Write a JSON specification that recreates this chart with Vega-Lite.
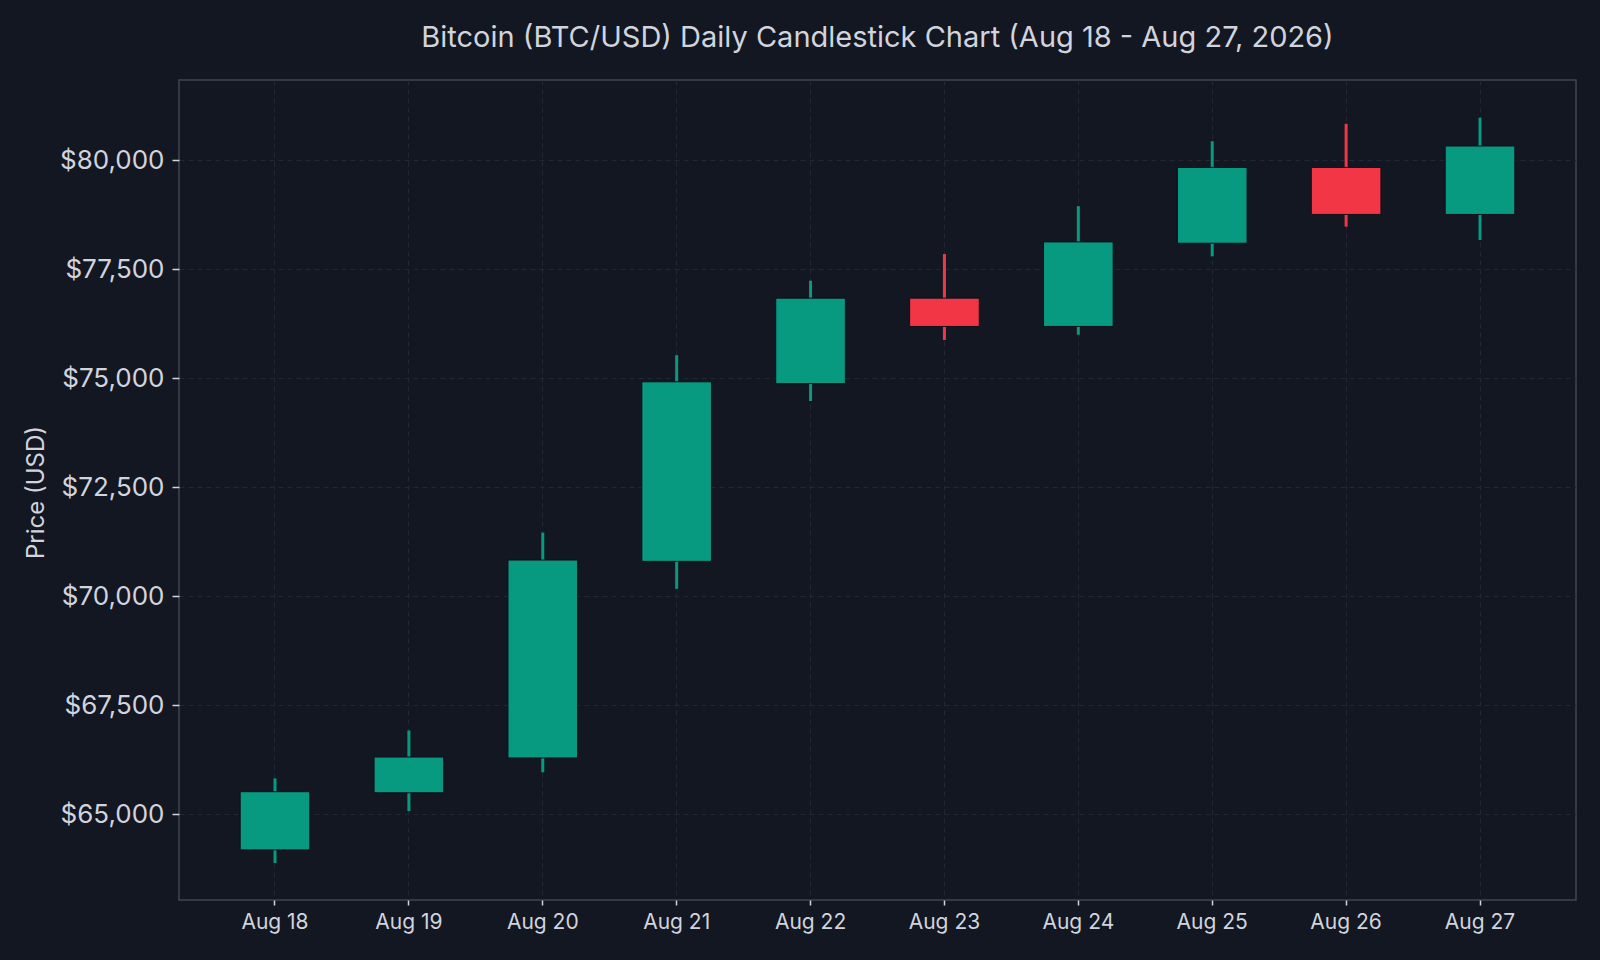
{
  "$schema": "https://vega.github.io/schema/vega-lite/v6.json",
  "description": "Bitcoin daily candlestick chart",
  "autosize": {"type": "none"},
  "padding": {"left": 179, "top": 80, "right": 24, "bottom": 60},
  "width": 1397,
  "height": 820,
  "background": "#131722",
  "title": {
    "text": "Bitcoin (BTC/USD) Daily Candlestick Chart (Aug 18 - Aug 27, 2026)",
    "anchor": "middle",
    "fontSize": 29,
    "fontWeight": "normal",
    "font": "Inter",
    "color": "#d1d4dc",
    "offset": 27
  },
  "data": {
    "values": [
      {"date": "Aug 18", "open": 64180, "high": 65820, "low": 63880, "close": 65515},
      {"date": "Aug 19", "open": 65490, "high": 66920, "low": 65070, "close": 66310},
      {"date": "Aug 20", "open": 66290, "high": 71460, "low": 65960, "close": 70830},
      {"date": "Aug 21", "open": 70800, "high": 75530, "low": 70170, "close": 74920},
      {"date": "Aug 22", "open": 74880, "high": 77240, "low": 74480, "close": 76840},
      {"date": "Aug 23", "open": 76840, "high": 77850, "low": 75880, "close": 76190},
      {"date": "Aug 24", "open": 76190, "high": 78950, "low": 76000, "close": 78130},
      {"date": "Aug 25", "open": 78100, "high": 80440, "low": 77800, "close": 79840},
      {"date": "Aug 26", "open": 79840, "high": 80840, "low": 78480, "close": 78760},
      {"date": "Aug 27", "open": 78760, "high": 80980, "low": 78175, "close": 80330}
    ]
  },
  "encoding": {
    "x": {
      "field": "date",
      "type": "ordinal",
      "sort": null,
      "scale": {"type": "band", "paddingInner": 0, "paddingOuter": 0.217},
      "axis": {
        "title": null,
        "labelAngle": 0,
        "labelFontSize": 21,
        "labelPadding": 6,
        "tickSize": 5,
        "grid": true
      }
    },
    "color": {
      "condition": {"test": "datum.close < datum.open", "value": "#F23645"},
      "value": "#089981"
    }
  },
  "layer": [
    {
      "mark": {"type": "rule", "strokeWidth": 3},
      "encoding": {
        "y": {
          "field": "low",
          "type": "quantitative",
          "scale": {"domain": [63030, 81845], "nice": false, "zero": false},
          "axis": {
            "title": "Price (USD)",
            "titleFontSize": 24,
            "titleFontWeight": "normal",
            "titleX": -143,
            "titleY": 412,
            "titleAngle": -90,
            "titleAlign": "center",
            "titleBaseline": "middle",
            "values": [65000, 67500, 70000, 72500, 75000, 77500, 80000],
            "format": "$,.0f",
            "labelFontSize": 26,
            "labelPadding": 8,
            "tickSize": 7,
            "grid": true
          }
        },
        "y2": {"field": "high"}
      }
    },
    {
      "mark": {"type": "bar", "width": {"band": 0.52}, "stroke": "#0e1119", "strokeWidth": 1},
      "encoding": {
        "y": {"field": "open", "type": "quantitative"},
        "y2": {"field": "close"}
      }
    }
  ],
  "config": {
    "font": "Inter",
    "view": {"stroke": "#434651", "strokeWidth": 1.5},
    "axis": {
      "domain": false,
      "labelColor": "#d1d4dc",
      "titleColor": "#d1d4dc",
      "labelFont": "Inter",
      "titleFont": "Inter",
      "tickColor": "#d1d4dc",
      "tickWidth": 1.5,
      "gridColor": "#232733",
      "gridDash": [5, 4],
      "gridWidth": 1
    }
  }
}
